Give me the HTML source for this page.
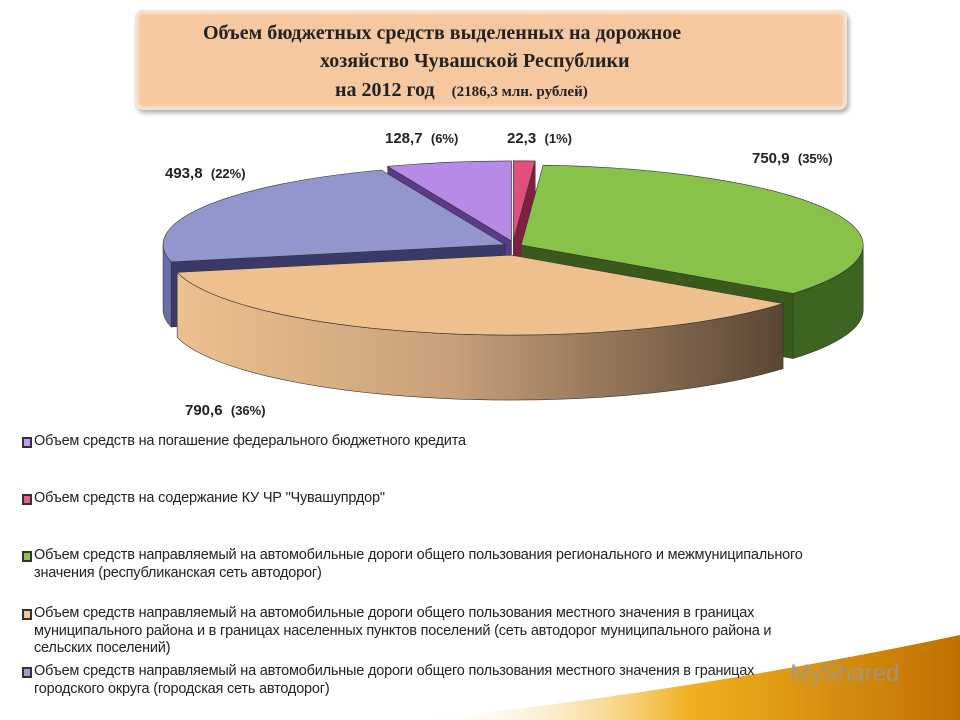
<!DOCTYPE html>
<html><head><meta charset="utf-8"><style>
body{margin:0;width:960px;height:720px;background:#fff;overflow:hidden;position:relative;font-family:"Liberation Sans",sans-serif}
.title{position:absolute;left:135px;top:10px;width:708px;height:96px;border-radius:8px;background:#f5c8a0;border:2px solid #f3e3d6;box-shadow:2px 3px 5px #aaa, inset 0 0 4px #fff;font-family:"Liberation Serif",serif;font-weight:bold;font-size:20px;color:#222}
.title div{position:absolute;white-space:nowrap}
.lg{position:absolute;left:34px;font-size:14.5px;letter-spacing:-0.2px;color:#222;line-height:17.5px;width:820px}
.sq{position:absolute;left:-12px;top:4px;width:6px;height:7px;border:2px solid #333}
</style></head><body>
<div class="title">
<div style="left:66px;top:10px">Объем бюджетных средств выделенных на дорожное</div>
<div style="left:183px;top:38px">хозяйство Чувашской Республики</div>
<div style="left:198px;top:67px">на 2012 год <span style="font-size:15px;margin-left:12px">(2186,3 млн. рублей)</span></div>
</div>
<svg id="pie" width="960" height="720" style="position:absolute;left:0;top:0">
<defs>
<linearGradient id="gTan" x1="0" x2="1" y1="0" y2="0"><stop offset="0" stop-color="#ecc08f"/><stop offset="0.45" stop-color="#c9a07a"/><stop offset="1" stop-color="#5a4634"/></linearGradient>
<linearGradient id="swash" x1="0" x2="1" y1="0" y2="0"><stop offset="0" stop-color="#fff" stop-opacity="0"/><stop offset="0.5" stop-color="#f0b020"/><stop offset="1" stop-color="#c07000"/></linearGradient>
</defs>
<path d="M420 720 Q700 690 960 635 L960 720 Z" fill="url(#swash)"/>
<g id="slices"></g>
</svg>
<div id="labels"></div>
<div class="lg" style="top:433px"><span class="sq" style="background:#c49ff0"></span>Объем средств на погашение федерального бюджетного кредита</div>
<div class="lg" style="top:490px"><span class="sq" style="background:#e8608a"></span>Объем средств на содержание КУ ЧР "Чувашупрдор"</div>
<div class="lg" style="top:547px;width:830px"><span class="sq" style="background:#8cc452"></span>Объем средств направляемый на автомобильные дороги общего пользования регионального и межмуниципального значения (республиканская сеть автодорог)</div>
<div class="lg" style="top:605px;width:775px"><span class="sq" style="background:#f0c898"></span>Объем средств направляемый на автомобильные дороги общего пользования местного значения в границах муниципального района и в границах населенных пунктов поселений (сеть автодорог муниципального района и сельских поселений)</div>
<div class="lg" style="top:663px;width:765px"><span class="sq" style="background:#9a9ed4"></span>Объем средств направляемый на автомобильные дороги общего пользования местного значения в границах городского округа (городская сеть автодорог)</div>
<div style="position:absolute;left:790px;top:660px;font-size:24px;color:#999;opacity:.8">MyShared</div>
<script>
const names=["federal-credit","chuvashuprdor","regional-roads","municipal-roads","city-roads"];
const values=[128.7,22.3,750.9,790.6,493.8];
const valueLabels=["128,7","22,3","750,9","790,6","493,8"];
const pctLabels=["(6%)","(1%)","(35%)","(36%)","(22%)"];
const tops=["#b88ae8","#e0507c","#88c24a","#eec08e","#9296cc"];
const sides=["#8a60c0","#b03058","#3d6420","url(#gTan)","#6a6eaa"];
const walls=["#5a3a8a","#802040","#3a5a1c","#7a5a40","#3a3a6a"];
const labelPos=[[385,130],[507,130],[752,150],[185,402],[165,165]];
const cx=513,cy=248,rx=342,ry=80,D=65,E=9;
const total=values.reduce((a,b)=>a+b,0);
const g=document.getElementById('slices');
const ns="http://www.w3.org/2000/svg";
const rad=d=>d*Math.PI/180;
function P(a,ox,oy){return [cx+ox+rx*Math.cos(rad(a)),cy+oy+ry*Math.sin(rad(a))];}
let a=-90-values[0]/total*360;
const sl=values.map((v,i)=>{const a0=a;a+=v/total*360;return {i,a0,a1:a,m:(a0+a)/2};});
sl.sort((p,q)=>Math.sin(rad(p.m))-Math.sin(rad(q.m)));
function add(d,fill,name){const p=document.createElementNS(ns,'path');p.setAttribute('d',d);p.setAttribute('fill',fill);p.setAttribute('stroke','#333');p.setAttribute('stroke-width','0.6');


g.appendChild(p);}
sl.forEach(s=>{
  const ox=E*Math.cos(rad(s.m)),oy=E*Math.sin(rad(s.m))*0.8;
  const c=[cx+ox,cy+oy];
  [[s.a0,Math.cos(rad(s.a0))<0],[s.a1,Math.cos(rad(s.a1))>0]].forEach(([ang,vis])=>{
    if(!vis)return;const p=P(ang,ox,oy);
    add(`M${c[0]},${c[1]}L${p[0]},${p[1]}L${p[0]},${p[1]+D}L${c[0]},${c[1]+D}Z`,walls[s.i],'slice-wall-'+names[s.i]);
  });
  [[0,180],[360,540]].forEach(([lo,hi])=>{
    const b0=Math.max(s.a0,lo),b1=Math.min(s.a1,hi);if(b1<=b0)return;
    const p0=P(b0,ox,oy),p1=P(b1,ox,oy);
    add(`M${p0[0]},${p0[1]}A${rx},${ry} 0 0 1 ${p1[0]},${p1[1]}L${p1[0]},${p1[1]+D}A${rx},${ry} 0 0 0 ${p0[0]},${p0[1]+D}Z`,sides[s.i],'slice-side-'+names[s.i]);
  });
  const p0=P(s.a0,ox,oy),p1=P(s.a1,ox,oy);const large=(s.a1-s.a0)>180?1:0;
  add(`M${c[0]},${c[1]}L${p0[0]},${p0[1]}A${rx},${ry} 0 ${large} 1 ${p1[0]},${p1[1]}Z`,tops[s.i],'slice-'+names[s.i]);
});
const L=document.getElementById('labels');
values.forEach((v,i)=>{const d=document.createElement('div');


d.style.cssText=`position:absolute;left:${labelPos[i][0]}px;top:${labelPos[i][1]}px;font-weight:bold;font-size:15px;color:#222;white-space:nowrap`;
d.innerHTML=valueLabels[i]+'&nbsp;&nbsp;<span style="font-size:13px">'+pctLabels[i]+'</span>';L.appendChild(d);});
</script>
</body></html>
